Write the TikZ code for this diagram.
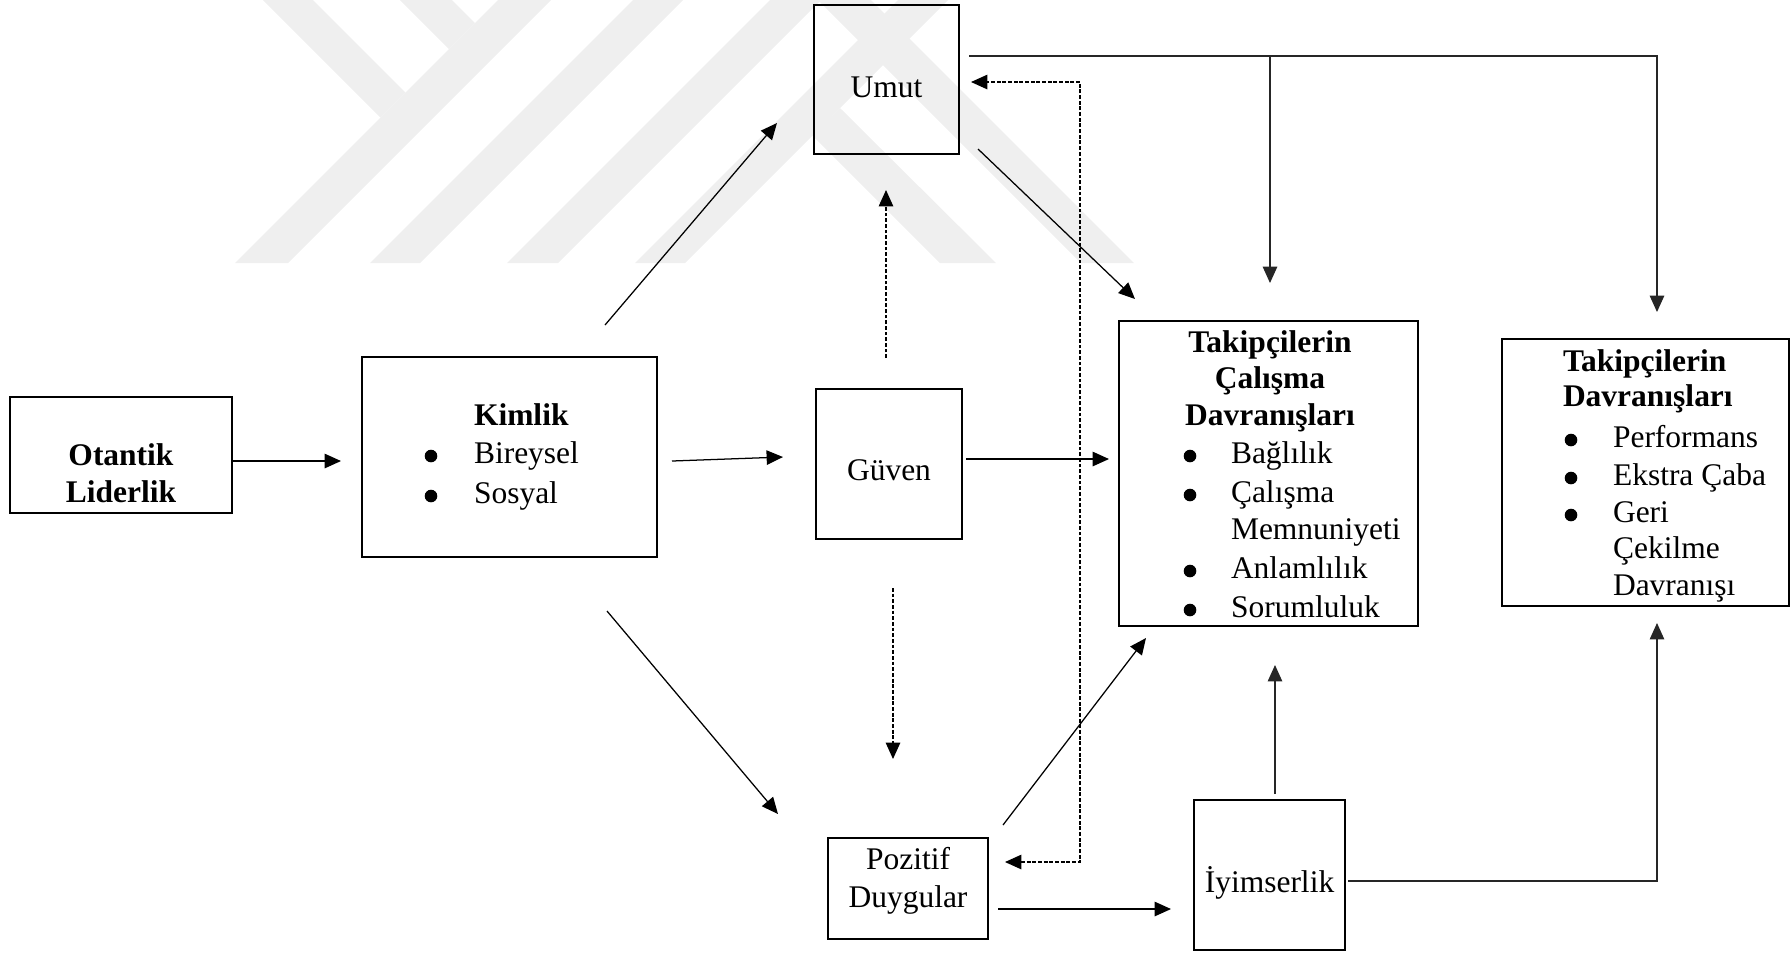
\documentclass[tikz,border=0pt]{standalone}
\usepackage{fontspec}
\setmainfont{Liberation Serif}
\usetikzlibrary{arrows.meta}
\definecolor{wm}{RGB}{239,239,239}
\def\upx{0.3175pt}
\tikzset{
  box/.style={draw, line width=0.75pt, inner sep=0pt, outer sep=0pt},
  lbl/.style={inner sep=0pt, outer sep=0pt, font=\fontsize{10}{12}\selectfont},
  conn/.style={line width=0.4pt, -{Triangle[length=5.2pt,width=4.6pt]}},
  gconn/.style={conn, draw=black!85},
  dconn/.style={conn, dash pattern=on 1.2pt off 0.6pt},
  bul/.style={fill=black},
}
\begin{document}
\begin{tikzpicture}[x=0.3175pt, y=-0.3175pt]
\useasboundingbox (0,0) rectangle (1791,952);
% watermark
\fill[wm] (235,263) -- (288,263) -- (551,0) -- (498,0) -- cycle;
\fill[wm] (263,0) -- (313,0) -- (405.5,92.5) -- (380.5,117.5) -- cycle;
\fill[wm] (400,0) -- (452,0) -- (475,23) -- (449,49) -- cycle;
\fill[wm] (370,263) -- (420,263) -- (683,0) -- (633,0) -- cycle;
\fill[wm] (507,263) -- (558,263) -- (821,0) -- (770,0) -- cycle;
\fill[wm] (635,263) -- (685,263) -- (948,0) -- (898,0) -- cycle;
\fill[wm] (818,0) -- (871,0) -- (1134,263) -- (1081,263) -- cycle;
\fill[wm] (812,135) -- (840,108) -- (996,263) -- (940,263) -- cycle;

% boxes
\node[box, minimum width=222*\upx, minimum height=116*\upx] (ot) at (121,455) {};
\node[box, minimum width=295*\upx, minimum height=200*\upx] (kim) at (509.5,457) {};
\node[box, minimum width=145*\upx, minimum height=149*\upx] (umut) at (886.5,79.5) {};
\node[box, minimum width=146*\upx, minimum height=150*\upx] (guv) at (889,464) {};
\node[box, minimum width=160*\upx, minimum height=101*\upx] (poz) at (908,888.5) {};
\node[box, minimum width=151*\upx, minimum height=150*\upx] (iyi) at (1269.5,875) {};
\node[box, minimum width=299*\upx, minimum height=305*\upx] (tcd) at (1268.5,473.5) {};
\node[box, minimum width=287*\upx, minimum height=267*\upx] (tdv) at (1645.5,472.5) {};

% texts
\node[lbl, anchor=base] (ot1) at (121,465) {\textbf{Otantik}};
\node[lbl, anchor=base] (ot2) at (121,502) {\textbf{Liderlik}};

\node[lbl, anchor=base west] (k0) at (474,425) {\textbf{Kimlik}};
\node[lbl, anchor=base west] (k1) at (474,463) {Bireysel};
\node[lbl, anchor=base west] (k2) at (474,503) {Sosyal};
\fill[bul] (431,456) circle[radius=2pt];
\fill[bul] (431,496) circle[radius=2pt];

\node[lbl, anchor=base] (u1) at (886.5,97) {Umut};
\node[lbl, anchor=base] (g1) at (889,480) {Güven};
\node[lbl, anchor=base] (p1) at (908,869) {Pozitif};
\node[lbl, anchor=base] (p2) at (908,907) {Duygular};
\node[lbl, anchor=base] (i1) at (1269.5,892) {İyimserlik};

\node[lbl, anchor=base] (c0) at (1270,352) {\textbf{Takipçilerin}};
\node[lbl, anchor=base] (c1) at (1270,388) {\textbf{Çalışma}};
\node[lbl, anchor=base] (c2) at (1270,425) {\textbf{Davranışları}};
\node[lbl, anchor=base west] (c3) at (1231,463) {Bağlılık};
\node[lbl, anchor=base west] (c4) at (1231,502) {Çalışma};
\node[lbl, anchor=base west] (c5) at (1231,539) {Memnuniyeti};
\node[lbl, anchor=base west] (c6) at (1231,578) {Anlamlılık};
\node[lbl, anchor=base west] (c7) at (1231,617) {Sorumluluk};
\fill[bul] (1190,456) circle[radius=2pt];
\fill[bul] (1190,495) circle[radius=2pt];
\fill[bul] (1190,571) circle[radius=2pt];
\fill[bul] (1190,610) circle[radius=2pt];

\node[lbl, anchor=base west] (d0) at (1563,371) {\textbf{Takipçilerin}};
\node[lbl, anchor=base west] (d1) at (1563,406) {\textbf{Davranışları}};
\node[lbl, anchor=base west] (d2) at (1613,447) {Performans};
\node[lbl, anchor=base west] (d3) at (1613,485) {Ekstra Çaba};
\node[lbl, anchor=base west] (d4) at (1613,522) {Geri};
\node[lbl, anchor=base west] (d5) at (1613,558) {Çekilme};
\node[lbl, anchor=base west] (d6) at (1613,595) {Davranışı};
\fill[bul] (1571,440) circle[radius=2pt];
\fill[bul] (1571,478) circle[radius=2pt];
\fill[bul] (1571,515) circle[radius=2pt];

% connectors
\draw[conn] ([shift={(1,6)}]ot.east) -- ([shift={(-21,4)}]kim.west);
\draw[conn] ([shift={(15,4)}]kim.east) -- ([shift={(-33,-7)}]guv.west);
\draw[conn] ([shift={(-52,-32)}]kim.north east) -- ([shift={(-37,-31)}]umut.south west);
\draw[conn] ([shift={(-50,54)}]kim.south east) -- ([shift={(-50,-24)}]poz.north west);
\draw[dconn] ([shift={(-3,-31)}]guv.north) -- ([shift={(-0.5,36)}]umut.south);
\draw[dconn] ([shift={(4,49)}]guv.south) -- ([shift={(-15,-79)}]poz.north);
\draw[conn] ([shift={(4,-5)}]guv.east) -- ([shift={(-10,-14.5)}]tcd.west);
\draw[conn] ([shift={(19,-5)}]umut.south east) -- ([shift={(16,-22)}]tcd.north west);
\draw[conn] ([shift={(15,-13)}]poz.north east) -- ([shift={(27,12)}]tcd.south west);
\draw[conn] ([shift={(10,20.5)}]poz.east) -- ([shift={(-23,34)}]iyi.west);
\draw[gconn] ([shift={(5.5,-6)}]iyi.north) -- ([shift={(6.5,39)}]tcd.south);
\draw[gconn] ([shift={(3,6)}]iyi.east) -| ([shift={(11.5,17)}]tdv.south);

\coordinate (u0) at ([shift={(10,-23.5)}]umut.east);
\coordinate (t1) at ([shift={(1.5,-38)}]tcd.north);
\draw[gconn] (u0) -| ([shift={(11.5,-27)}]tdv.north);
\draw[gconn] (t1 |- u0) -- (t1);

\coordinate (ua) at ([shift={(12,2.5)}]umut.east);
\coordinate (pa) at ([shift={(17,-26.5)}]poz.east);
\coordinate (dcol) at ([shift={(-39,0)}]tcd.west);
\draw[dconn, {Triangle[length=5.2pt,width=4.6pt]}-{Triangle[length=5.2pt,width=4.6pt]}] (pa) -- (pa -| dcol) -- (ua -| dcol) -- (ua);
\end{tikzpicture}
\end{document}
